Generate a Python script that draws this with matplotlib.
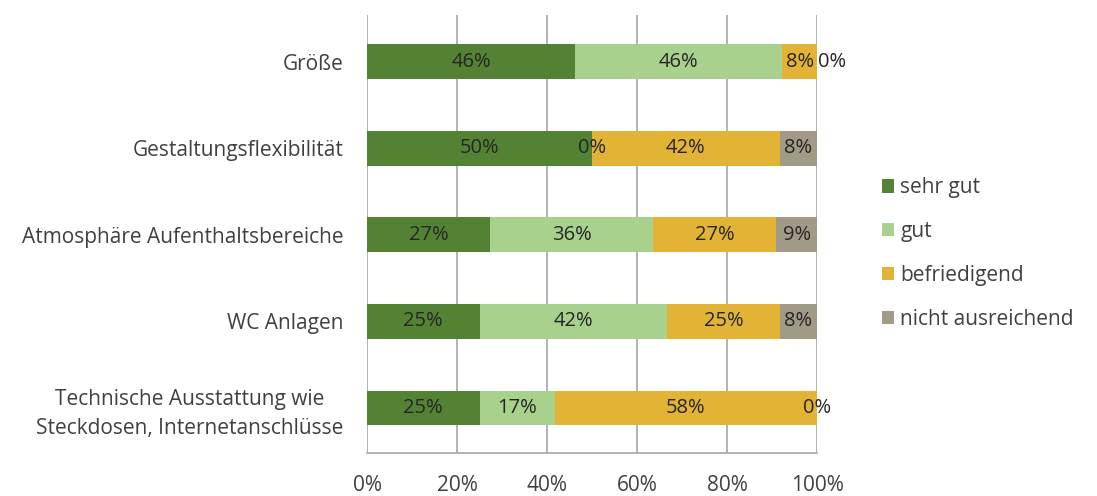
import matplotlib.pyplot as plt
import numpy as np

plt.rcParams['font.family'] = ['Open Sans', 'DejaVu Sans']

categories = ['Größe', 'Gestaltungsflexibilität', 'Atmosphäre Aufenthaltsbereiche',
              'WC Anlagen', 'Technische Ausstattung wie\nSteckdosen, Internetanschlüsse']
series = ['sehr gut', 'gut', 'befriedigend', 'nicht ausreichend']
sehr_gut = [46.2, 50.0, 27.3, 25.0, 25.0]
gut = [46.1, 0.0, 36.3, 41.7, 16.7]
befriedigend = [7.7, 41.7, 27.3, 25.0, 58.3]
nicht_ausreichend = [0.0, 8.3, 9.1, 8.3, 0.0]
colors = ['#548235', '#A9D18E', '#E2B335', '#A09A86']

values = [sehr_gut, gut, befriedigend, nicht_ausreichend]

fig = plt.figure(figsize=(10.97, 4.96), dpi=100)
ax = fig.add_axes([0.3346, 0.0867, 0.4102, 0.8833])

y = np.arange(len(categories))
left = np.zeros(len(categories))
for k, (name, vals, col) in enumerate(zip(series, values, colors)):
    vals = np.array(vals, dtype=float)
    ax.barh(y, vals, left=left, height=0.4, color=col, label=name, zorder=2)
    for i, v in enumerate(vals):
        cx = left[i] + v / 2
        dx = 0
        # zero label right after a small segment: push it right (like Excel does)
        if v == 0 and cx >= 99.9 and k > 0 and values[k - 1][i] < 10:
            dx = 11
        ax.annotate(f'{round(v)}%', (cx, y[i]), xytext=(dx, 0), textcoords='offset points',
                    ha='center', va='center', fontsize=14.5, color='#262626', zorder=3)
    left += vals

ax.set_xlim(0, 100)
ax.set_ylim(4.52, -0.54)
ax.set_xticks(np.arange(0, 101, 20))
ax.set_xticklabels([f'{t}%' for t in range(0, 101, 20)])
ax.set_yticks(y)
ax.set_yticklabels(categories, multialignment='center', linespacing=1.45)
ax.tick_params(axis='both', length=0, labelsize=15, colors='#404040')
ax.tick_params(axis='x', pad=16)
ax.tick_params(axis='y', pad=17)

ax.grid(axis='x', color='#A6A6A6', linewidth=1.2, zorder=0)
ax.set_axisbelow(True)
for s in ['top', 'right', 'left']:
    ax.spines[s].set_visible(False)
ax.spines['bottom'].set_color('#A6A6A6')
ax.spines['bottom'].set_linewidth(1.2)

ax.legend(loc='center left', bbox_to_anchor=(1.102, 0.455), frameon=False, fontsize=15,
          handlelength=0.6, handleheight=0.6, handletextpad=0.3, labelspacing=1.1,
          labelcolor='#404040')

fig.savefig('out.png', dpi=100)
